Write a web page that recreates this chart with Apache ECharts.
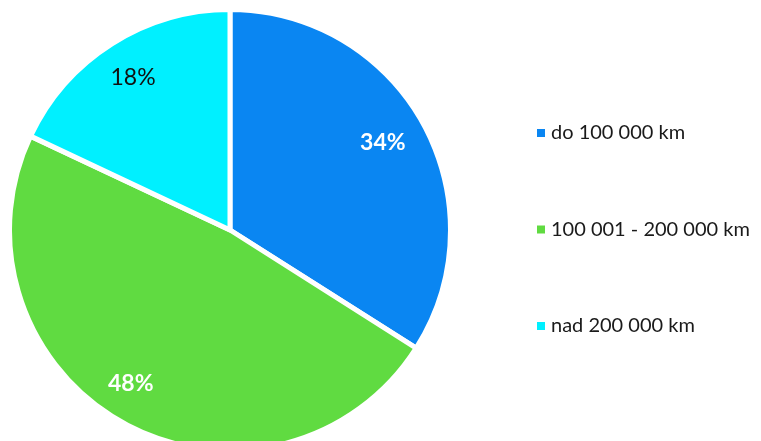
<!DOCTYPE html>
<html>
<head>
<meta charset="utf-8">
<script src="https://cdn.jsdelivr.net/npm/echarts@6/dist/echarts.min.js"></script>
<style>
  html, body { margin: 0; padding: 0; background: #fff; }
  #chart { width: 761px; height: 441px; }
</style>
</head>
<body>
<div id="chart"></div>
<script>
const categories = ['do 100 000 km', '100 001 - 200 000 km', 'nad 200 000 km'];
const values = [34, 48, 18];
const colors = ['#0A86F2', '#60DB41', '#00F0FF'];
const labelColors = ['#fff', '#fff', '#111'];
const labelWeights = ['bold', 'bold', 'normal'];
const labelOffsets = [[-4, -1], [-13, -3], [-1, -1]];

const FONT = 'Lato, "Open Sans", sans-serif';
const center = [230, 230];

const pieData = categories.map((name, i) => ({
  name: name,
  value: values[i],
  itemStyle: { color: colors[i] }
}));

// invisible ring only used to place the % labels further out
const labelData = categories.map((name, i) => ({
  name: name,
  value: values[i],
  itemStyle: { color: 'transparent' },
  label: { color: labelColors[i], fontWeight: labelWeights[i], offset: labelOffsets[i] }
}));

const chart = echarts.init(document.getElementById('chart'), null, { renderer: 'canvas' });

chart.setOption({
  animation: false,
  legend: {
    orient: 'vertical',
    left: 530,
    top: 118,
    icon: 'rect',
    itemWidth: 10,
    itemHeight: 10,
    itemGap: 76.5,
    textStyle: {
      fontFamily: FONT,
      fontSize: 20,
      color: '#1a1a1a'
    },
    data: categories
  },
  series: [
    {
      type: 'pie',
      center: center,
      radius: [0, 220.5],
      startAngle: 90,
      clockwise: true,
      silent: true,
      label: { show: false },
      labelLine: { show: false },
      itemStyle: { borderColor: '#fff', borderWidth: 5 },
      data: pieData
    },
    {
      type: 'pie',
      center: center,
      radius: [134, 218],
      startAngle: 90,
      clockwise: true,
      silent: true,
      legendHoverLink: false,
      label: {
        show: true,
        position: 'inside',
        formatter: '{c}%',
        fontFamily: FONT,
        fontSize: 23
      },
      labelLine: { show: false },
      data: labelData
    }
  ]
});
</script>
</body>
</html>
